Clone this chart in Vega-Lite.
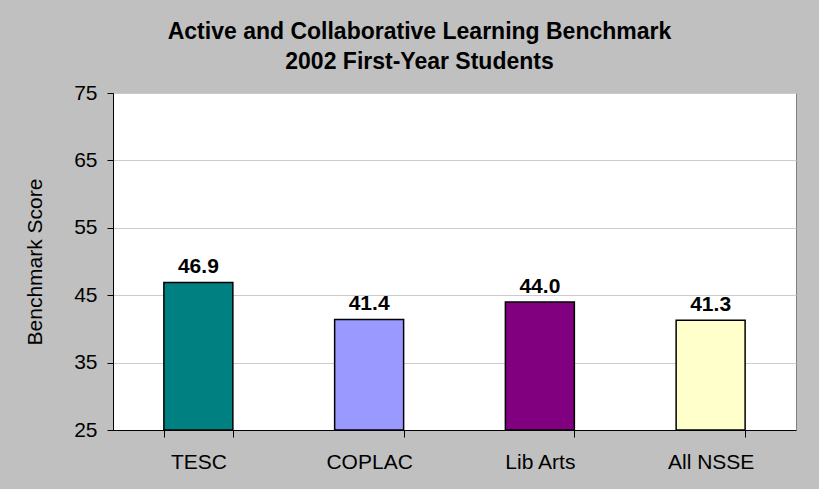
{
  "$schema": "https://vega.github.io/schema/vega-lite/v6.json",
  "width": 683,
  "height": 337,
  "autosize": {"type": "none"},
  "padding": {"left": 113, "top": 93, "right": 23, "bottom": 59},
  "background": "#c0c0c0",
  "config": {
    "font": "Liberation Sans",
    "view": {"fill": "white", "stroke": "#808080", "strokeWidth": 1}
  },
  "title": {
    "text": ["Active and Collaborative Learning Benchmark", "2002 First-Year Students"],
    "font": "Liberation Sans",
    "fontSize": 23,
    "fontWeight": "bold",
    "lineHeight": 30,
    "color": "black",
    "anchor": "middle",
    "frame": "group",
    "dx": -35,
    "offset": 8
  },
  "data": {
    "values": [
      {"group": "TESC", "score": 46.9},
      {"group": "COPLAC", "score": 41.4},
      {"group": "Lib Arts", "score": 44.0},
      {"group": "All NSSE", "score": 41.3}
    ]
  },
  "encoding": {
    "x": {
      "field": "group",
      "type": "nominal",
      "sort": null,
      "scale": {"paddingInner": 0.596, "paddingOuter": 0.298},
      "axis": {
        "title": null,
        "labelAngle": 0,
        "labelFontSize": 21,
        "labelColor": "black",
        "labelPadding": 14,
        "domainColor": "black",
        "domainWidth": 1,
        "tickColor": "black",
        "tickSize": 7,
        "tickBand": "extent",
        "grid": false
      }
    },
    "y": {
      "field": "score",
      "type": "quantitative",
      "scale": {"domain": [25, 75], "nice": false, "zero": false},
      "axis": {
        "title": "Benchmark Score",
        "titleFontSize": 21,
        "titleFontWeight": "normal",
        "titleColor": "black",
        "titlePadding": 28,
        "values": [25, 35, 45, 55, 65, 75],
        "labelFontSize": 21,
        "labelColor": "black",
        "labelPadding": 10,
        "tickSize": 6,
        "tickColor": "black",
        "domainColor": "black",
        "grid": true,
        "gridColor": "#cccccc",
        "gridWidth": 1
      }
    }
  },
  "layer": [
    {
      "mark": {"type": "bar", "stroke": "black", "strokeWidth": 1.5},
      "encoding": {
        "y2": {"datum": 25},
        "color": {
          "field": "group",
          "type": "nominal",
          "sort": null,
          "scale": {
            "domain": ["TESC", "COPLAC", "Lib Arts", "All NSSE"],
            "range": ["#008080", "#9999ff", "#800080", "#ffffcc"]
          },
          "legend": null
        }
      }
    },
    {
      "mark": {"type": "text", "fontSize": 21, "fontWeight": "bold", "baseline": "alphabetic", "dy": -9, "color": "black"},
      "encoding": {
        "text": {"field": "score", "type": "quantitative", "format": ".1f"}
      }
    }
  ]
}
